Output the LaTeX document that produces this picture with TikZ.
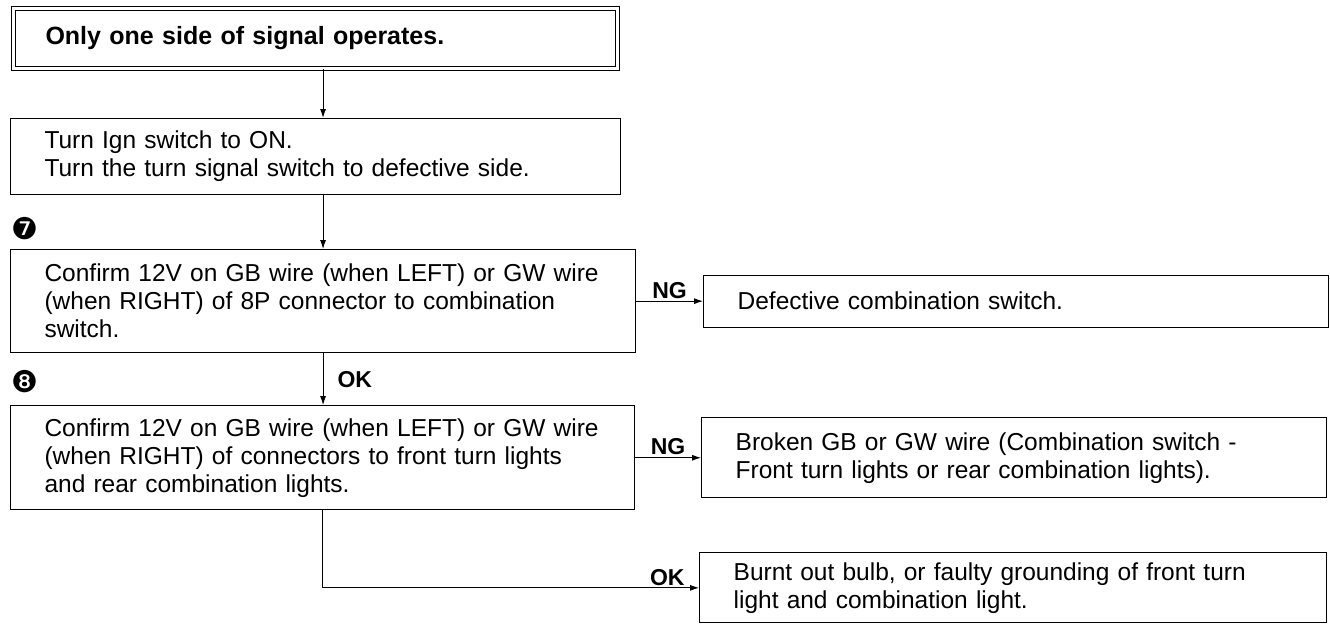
\documentclass[tikz,border=0pt]{standalone}
\usepackage{fontspec}
\setmainfont{Liberation Sans}
\newfontfamily\dingfont{DejaVu Sans}
\usetikzlibrary{positioning, arrows.meta}

\begin{document}
\begin{tikzpicture}[x=1pt, y=1pt,
  stepbox/.style={draw, line width=1.1pt, anchor=north west, align=left,
                  inner xsep=34pt, inner ysep=0pt, font=\fontsize{24.5}{28}\selectfont},
  titlebox/.style={stepbox, double, double distance=3.6pt, line width=1pt, inner xsep=32pt,
                   font=\fontsize{25}{28}\selectfont\bfseries},
  arr/.style={-{Latex[length=9pt, width=6pt]}, line width=1.1pt},
  lbl/.style={font=\fontsize{23}{26}\selectfont\bfseries, inner sep=2pt},
  stepno/.style={font=\dingfont\fontsize{30}{30}\selectfont, inner sep=0pt},
]
\useasboundingbox (0,0) rectangle (1330,-624);

% Symptom
\node[titlebox, minimum width=604pt, minimum height=60pt, text width=540pt] (b1) at (13,-8)
  {Only one side of signal operates.};

% Switches on
\node[stepbox, below=49pt of b1.south west, anchor=north west, xshift=-3pt,
      minimum width=610pt, minimum height=76pt, text width=542pt] (b2)
  {Turn Ign switch to ON.\\Turn the turn signal switch to defective side.};

% Check 7
\node[stepbox, below=54pt of b2.south west, anchor=north west,
      minimum width=625pt, minimum height=103pt, text width=557pt] (b3)
  {Confirm 12V on GB wire (when LEFT) or GW wire\\(when RIGHT) of 8P connector to combination\\switch.};
\node[stepbox, right=67pt of b3.east, minimum width=625pt, minimum height=52pt, text width=557pt] (b4)
  {Defective combination switch.};

% Check 8
\node[stepbox, below=52pt of b3.south west, anchor=north west,
      minimum width=624pt, minimum height=104pt, text width=556pt] (b5)
  {Confirm 12V on GB wire (when LEFT) or GW wire\\(when RIGHT) of connectors to front turn lights\\and rear combination lights.};
\node[stepbox, right=66pt of b5.east, minimum width=625pt, minimum height=80pt, text width=557pt] (b6)
  {Broken GB or GW wire (Combination switch -\\Front turn lights or rear combination lights).};
\node[stepbox, below right=42pt and 64pt of b5.south east, anchor=north west,
      minimum width=627pt, minimum height=70pt, text width=559pt] (b7)
  {Burnt out bulb, or faulty grounding of front turn\\light and combination light.};

% Step numbers
\node[stepno, above right=9pt and 1pt of b3.north west] (n7) {❼};
\node[stepno, above right=12pt and 1pt of b5.north west] (n8) {❽};

% Arrows
\draw[arr] (b1.south -| b3.north) -- (b2.north -| b3.north);
\draw[arr] (b2.south -| b3.north) -- (b3.north);
\draw[arr] (b3.east) -- node[lbl, above] {NG} (b4.west);
\draw[arr] (b3.south) -- node[lbl, right, xshift=12pt] {OK} (b3.south |- b5.north);
\draw[arr] (b5.east) -- node[lbl, above] {NG} (b6.west);
\draw[arr] (b5.south) |- node[lbl, pos=1, anchor=south east, xshift=-12pt] {OK} (b7.west);

\end{tikzpicture}
\end{document}
